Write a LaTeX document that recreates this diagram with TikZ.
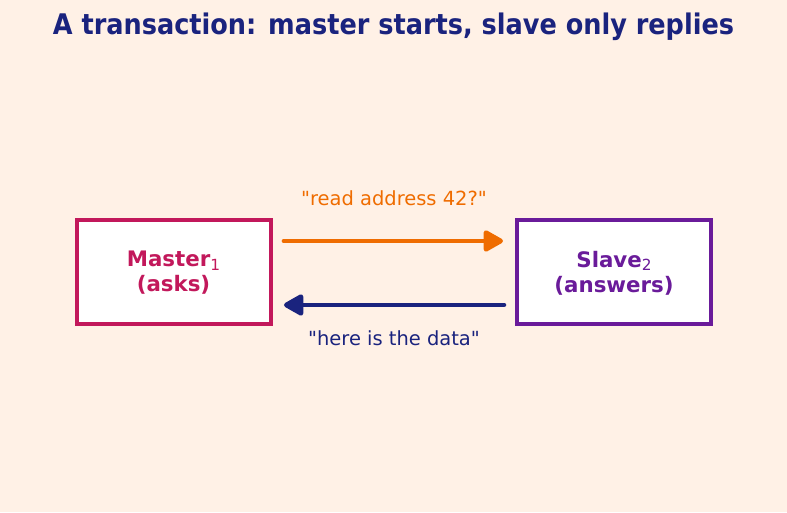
\documentclass[tikz,border=0pt]{standalone}
\usepackage{fontspec}
\setmainfont{DejaVu Sans}[Ligatures=TeXOff]
\newfontfamily\condf{DejaVu Sans Condensed}[Ligatures=TeXOff]
\usetikzlibrary{arrows.meta}
\definecolor{bgc}{HTML}{FFF1E6}
\definecolor{navy}{HTML}{1A237E}
\definecolor{crim}{HTML}{C2185B}
\definecolor{purp}{HTML}{6A1B9A}
\definecolor{orng}{HTML}{EF6C00}
\tikzset{
  box/.style={draw, line width=3pt, fill=white, minimum width=145.5pt, minimum height=78pt, inner sep=0pt},
  boxtxt/.style={align=center, font=\bfseries\fontsize{16}{18.75}\selectfont, inner sep=0pt, yshift=-1.2pt},
  msg/.style={line width=3.5pt, line cap=round, -{Triangle[length=16.5pt,width=17.5pt,round]}},
  lbl/.style={font=\fontsize{14.6}{17}\selectfont}
}
\begin{document}
\begin{tikzpicture}[x=0.75pt,y=-0.75pt]
\fill[bgc] (0,0) rectangle (787,512);
\useasboundingbox (0,0) rectangle (787,512);
\node[font=\condf\bfseries\fontsize{21.3}{25}\selectfont, text=navy] (title) at (393.5,27) {A transaction: master starts, slave only replies};
\node[box, draw=crim] (master) at (173.5,271.5) {};
\node[boxtxt, text=crim] (mastertxt) at (master.center) {Master{\fontsize{11.5}{13}\mdseries\selectfont\raisebox{-0.4ex}{1}}\\(asks)};
\node[box, draw=purp] (slave) at (614,271.5) {};
\node[boxtxt, text=purp] (slavetxt) at (slave.center) {Slave{\fontsize{11.5}{13}\mdseries\selectfont\raisebox{-0.4ex}{2}}\\(answers)};
\draw[msg, draw=orng, color=orng] ([xshift=8.6pt,yshift=22.9pt]master.east) -- ([xshift=-9pt,yshift=22.9pt]slave.west);
\draw[msg, draw=navy, color=navy] ([xshift=-8.3pt,yshift=-25.1pt]slave.west) -- ([xshift=8.6pt,yshift=-25.1pt]master.east);
\node[lbl, text=orng] (q) at (394,198) {"read address 42?"};
\node[lbl, text=navy] (r) at (394,338) {"here is the data"};
\end{tikzpicture}
\end{document}
